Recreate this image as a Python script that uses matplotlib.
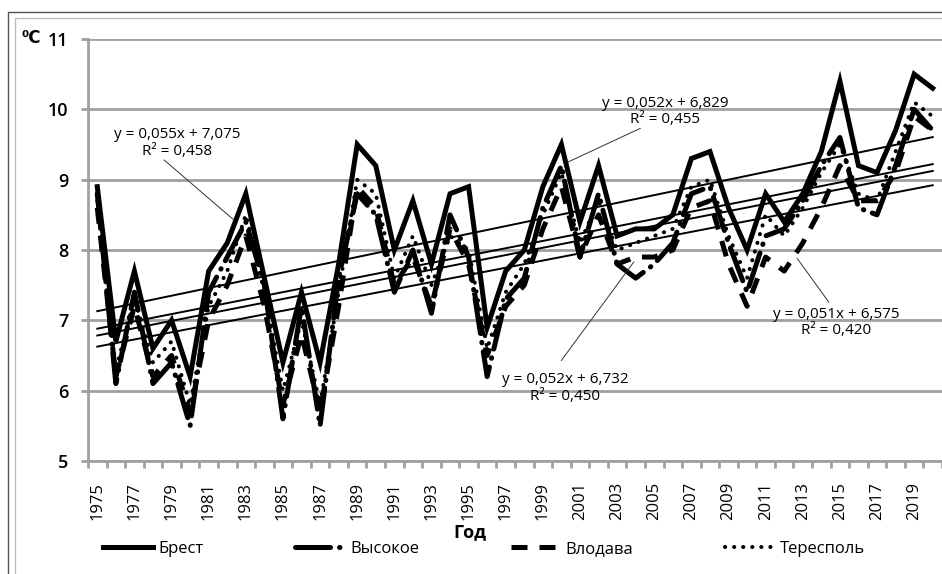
import matplotlib
matplotlib.use("Agg")
import matplotlib.pyplot as plt
from matplotlib.lines import Line2D
import numpy as np

# ---- data -------------------------------------------------------------
years = list(range(1975, 2021))

brest = [8.9, 6.7, 7.7, 6.6, 7.0, 6.2, 7.7, 8.1, 8.8, 7.6,
         6.4, 7.4, 6.4, 7.8, 9.5, 9.2, 8.0, 8.7, 7.8, 8.8,
         8.9, 6.9, 7.7, 8.0, 8.9, 9.5, 8.4, 9.2, 8.2, 8.3,
         8.3, 8.5, 9.3, 9.4, 8.6, 8.0, 8.8, 8.4, 8.8, 9.4,
         10.4, 9.2, 9.1, 9.7, 10.5, 10.3]

vysokoe = [8.8, 6.1, 7.4, 6.1, 6.4, 5.5, 7.4, 7.9, 8.4, 7.5,
           5.6, 7.2, 5.5, 7.6, 8.8, 8.5, 7.4, 8.0, 7.1, 8.5,
           7.9, 6.2, 7.3, 7.6, 8.6, 9.2, 7.9, 8.8, 7.8, 7.6,
           7.8, 8.1, 8.8, 8.9, 8.1, 7.4, 8.2, 8.3, 8.7, 9.2,
           9.6, 8.6, 8.5, 9.2, 10.0, 9.7]

vlodava = [8.6, 6.2, 7.2, 6.2, 6.5, 5.7, 7.0, 7.5, 8.2, 7.2,
           5.8, 6.8, 5.7, 7.2, 8.9, 8.6, 7.5, 7.9, 7.2, 8.3,
           7.8, 6.5, 7.2, 7.5, 8.3, 8.9, 7.9, 8.5, 7.8, 7.9,
           7.9, 8.0, 8.6, 8.7, 7.8, 7.2, 7.9, 7.7, 8.1, 8.6,
           9.2, 8.7, 8.7, 9.1, 9.9, 9.7]

terespol = [8.7, 6.3, 7.3, 6.4, 6.7, 5.8, 7.2, 7.7, 8.5, 7.4,
            6.0, 7.0, 5.8, 7.4, 9.0, 8.8, 7.6, 8.2, 7.5, 8.2,
            8.0, 6.6, 7.4, 7.8, 8.5, 9.1, 8.1, 8.7, 8.0, 8.1,
            8.2, 8.3, 8.9, 9.0, 8.2, 7.6, 8.5, 8.2, 8.6, 9.1,
            9.5, 8.8, 8.7, 9.4, 10.1, 9.9]

series_names = ["Брест", "Высокое", "Влодава", "Тересполь"]

# linear trends y = a*x + b, x = 1 for 1975
trend_slopes = [0.055, 0.052, 0.052, 0.051]
trend_intercepts = [7.075, 6.829, 6.732, 6.575]
trend_r2 = ["0,458", "0,455", "0,450", "0,420"]

y_ticks = [5, 6, 7, 8, 9, 10, 11]
x_label_years = years[::2]

# ---- figure -----------------------------------------------------------
plt.rcParams["font.family"] = ["Open Sans", "DejaVu Sans"]

W, H = 942, 574
fig = plt.figure(figsize=(W / 100, H / 100), dpi=100)


def fx(px):
    return px / W


def fy(py):
    return 1 - py / H


# outer chart frame (dark + light double line on top/left)
fig.add_artist(Line2D([fx(8), fx(8), 1.0], [0.0, fy(12), fy(12)],
                      color="#555555", lw=1.0, transform=fig.transFigure))
fig.add_artist(Line2D([fx(15), fx(15), 1.0], [0.0, fy(18), fy(18)],
                      color="#bdbdbd", lw=1.0, transform=fig.transFigure))

ax = fig.add_axes([fx(88), fy(461), 1 - fx(88), fy(39) - fy(461)])
px_per_year = 18.72
ax.set_xlim(1974.5, 1974.5 + (W - 88) / px_per_year)
ax.set_ylim(5, 11)

grey = "#a0a0a0"
for sp in ["top", "right"]:
    ax.spines[sp].set_visible(False)
for sp in ["left", "bottom"]:
    ax.spines[sp].set_color(grey)
    ax.spines[sp].set_linewidth(2.0)

ax.set_yticks(y_ticks)
ax.set_yticklabels([str(v) for v in y_ticks])
ax.tick_params(axis="y", length=5, width=2.0, color=grey, pad=9,
               labelsize=13, labelcolor="#000000")
for t in ax.get_yticklabels():
    t.set_fontweight("semibold")
ax.yaxis.grid(True, color=grey, lw=2.0)
ax.set_axisbelow(True)

# category axis: tick marks between years, labels on every second year
ax.set_xticks(x_label_years)
ax.set_xticklabels([str(y) for y in x_label_years], rotation=90)
ax.set_xticks([y - 0.5 for y in years] + [years[-1] + 0.5], minor=True)
ax.tick_params(axis="x", which="major", length=0, pad=15, labelsize=12)
ax.tick_params(axis="x", which="minor", length=5, width=2.0, color=grey)

# series
lw = 3.6
l_brest, = ax.plot(years, brest, color="black", lw=lw,
                   solid_joinstyle="miter", zorder=5)
l_vys, = ax.plot(years, vysokoe, color="black", lw=lw,
                 dashes=(7.0, 1.8, 0.1, 1.8), dash_capstyle="round", zorder=4)
l_vlo, = ax.plot(years, vlodava, color="black", lw=lw,
                 dashes=(3.2, 2.4), zorder=4)
l_ter, = ax.plot(years, terespol, color="black", lw=2.9,
                 dashes=(0.05, 2.2), dash_capstyle="round", zorder=4)

# trend lines
xs = np.array(years)
for a, b in zip(trend_slopes, trend_intercepts):
    ax.plot(xs, a * (xs - 1974) + b, color="black", lw=1.4, zorder=6)

# trend equations with leader lines
label_pos = [(1979.3, 9.52), (2005.6, 9.97), (2000.2, 6.04), (2014.8, 6.97)]
leader_from = [(1978.6, 9.28), (2004.25, 9.73), (2000.0, 6.43), (2014.4, 7.26)]
leader_to = [(1982.3, 8.44), (2000.35, 9.25), (2003.9, 7.83), (2012.7, 7.88)]
for a, b, r2, pos, p0, p1 in zip(trend_slopes, trend_intercepts, trend_r2,
                                 label_pos, leader_from, leader_to):
    eq = f"y = {a:.3f}x + {b:.3f}".replace(".", ",")
    ax.text(pos[0], pos[1], f"{eq}\nR² = {r2}", ha="center", va="center",
            fontsize=11, linespacing=1.15, zorder=8)
    ax.plot([p0[0], p1[0]], [p0[1], p1[1]], color="#333333", lw=0.7, zorder=7)

# axis titles
fig.text(fx(31), fy(38), "⁰C", ha="center", va="center", fontsize=12,
         fontweight="bold", family=["DejaVu Sans"])
fig.text(fx(470), fy(532), "Год", ha="center", va="center", fontsize=13,
         fontweight="bold")

# legend
fig.legend([l_brest, l_vys, l_vlo, l_ter], series_names, ncol=4,
           loc="center left", bbox_to_anchor=(fx(103), fy(549)),
           frameon=False, fontsize=12, handlelength=3.0, handletextpad=0.3,
           columnspacing=5.5, borderpad=0, borderaxespad=0)

fig.savefig("out.png", dpi=100)
